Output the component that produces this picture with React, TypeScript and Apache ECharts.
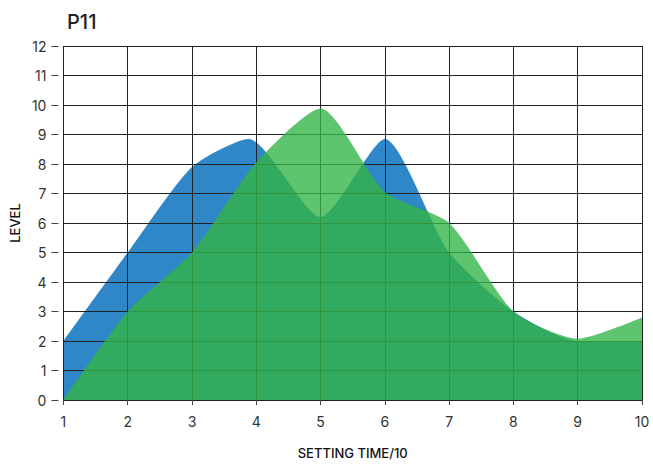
import React, { useEffect, useRef } from "react";
import * as echarts from "echarts";

const titleText = "P11";
const xName = "SETTING TIME/10";
const yName = "LEVEL";
const blueSeries: [number, number][] = [
  [1, 2], [2, 5], [3, 7.9], [3.88, 8.85], [5, 6.2], [6, 8.85], [7, 5], [8, 3], [9, 2], [10, 2],
];
const greenSeries: [number, number][] = [
  [1, 0], [2, 3], [3, 5], [4, 8.05], [5, 9.88], [6, 7.05], [7, 6], [8, 3], [9, 2.08], [10, 2.8],
];

export default function App() {
  const ref = useRef<HTMLDivElement>(null);
  useEffect(() => {
    if (!ref.current) return;
    const chart = echarts.init(ref.current, undefined, { renderer: "svg" });
    const font = "Inter, 'Noto Sans', sans-serif";
    const lineColor = "#222";
    chart.setOption({
      animation: false,
      title: {
        text: titleText,
        left: 62,
        top: 7,
        textStyle: { fontFamily: font, fontSize: 20, fontWeight: 500, color: "#222" },
      },
      grid: { left: 62, right: 11, top: 46, bottom: 66 },
      xAxis: {
        type: "value",
        min: 1,
        max: 10,
        interval: 1,
        z: 2,
        offset: 5,
        name: xName,
        nameLocation: "middle",
        nameGap: 41,
        nameTextStyle: { fontFamily: font, fontSize: 13, fontWeight: 500, color: "#111" },
        axisLine: { show: false },
        axisTick: { show: true, length: 5, lineStyle: { color: "#444" } },
        axisLabel: { margin: 9, fontFamily: font, fontSize: 14, color: "#333" },
        splitLine: { show: true, lineStyle: { color: lineColor, width: 1 } },
      },
      yAxis: {
        type: "value",
        min: 0,
        max: 12,
        interval: 1,
        z: 2,
        offset: 5,
        name: yName,
        nameLocation: "middle",
        nameGap: 35,
        nameRotate: 90,
        nameTextStyle: { fontFamily: font, fontSize: 13, fontWeight: 500, color: "#111" },
        axisLine: { show: false },
        axisTick: { show: true, length: 7, lineStyle: { color: "#444" } },
        axisLabel: { margin: 12, fontFamily: font, fontSize: 14, color: "#333" },
        splitLine: { show: true, lineStyle: { color: lineColor, width: 1 } },
      },
      series: [
        {
          type: "line",
          data: blueSeries,
          z: 1,
          smooth: 0.22,
          symbol: "none",
          lineStyle: { width: 0 },
          areaStyle: { color: "#2f87c8", opacity: 1 },
        },
        {
          type: "line",
          data: greenSeries,
          z: 3,
          smooth: 0.22,
          symbol: "none",
          lineStyle: { width: 0 },
          areaStyle: { color: "rgb(51,180,70)", opacity: 0.79 },
        },
      ],
    });
    return () => chart.dispose();
  }, []);
  return <div ref={ref} style={{ width: 653, height: 466, position: "absolute", left: 0, top: 0 }} />;
}
